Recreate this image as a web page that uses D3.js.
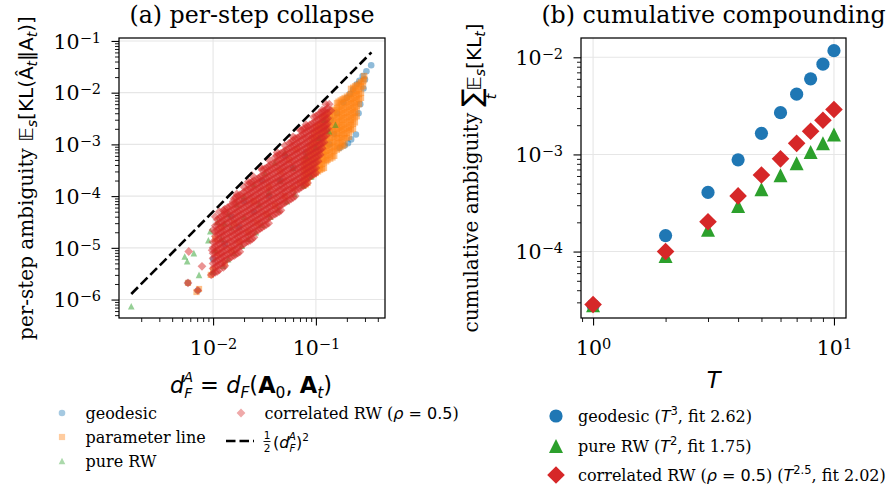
<!DOCTYPE html>
<html>
<head>
<meta charset="utf-8">
<script src="https://d3js.org/d3.v7.min.js"></script>
<style>
  body { margin: 0; background: #fff; }
</style>
</head>
<body>
<svg id="fig" width="890" height="489"></svg>
<script>

// ---------- panel (a): per-step points, [d_F^A, E_s KL] ----------
// correlated RW cloud, listed column by column as [x, [y ...]]
const corrRWCols = [
  [1.0e-2, [3.2e-6, 4.0e-6, 5.0e-6, 6.3e-6, 7.9e-6, 1.0e-5, 1.3e-5]],
  [1.1e-2, [3.5e-6, 4.5e-6, 5.6e-6, 7.1e-6, 8.9e-6, 1.1e-5, 1.4e-5, 1.8e-5, 2.2e-5, 2.8e-5, 3.5e-5]],
  [1.2e-2, [5.0e-6, 6.3e-6, 7.9e-6, 1.0e-5, 1.3e-5, 1.6e-5, 2.0e-5, 2.5e-5, 3.2e-5, 4.0e-5]],
  [1.3e-2, [4.5e-6, 5.6e-6, 7.1e-6, 8.9e-6, 1.1e-5, 1.4e-5, 1.8e-5, 2.2e-5, 2.8e-5, 3.5e-5, 4.5e-5, 5.6e-5]],
  [1.45e-2, [6.3e-6, 7.9e-6, 1.0e-5, 1.3e-5, 1.6e-5, 2.0e-5, 2.5e-5, 3.2e-5, 4.0e-5, 5.0e-5, 6.3e-5]],
  [1.6e-2, [7.1e-6, 8.9e-6, 1.1e-5, 1.4e-5, 1.8e-5, 2.2e-5, 2.8e-5, 3.5e-5, 4.5e-5, 5.6e-5, 7.1e-5, 8.9e-5]],
  [1.74e-2, [7.9e-6, 1.0e-5, 1.3e-5, 1.6e-5, 2.0e-5, 2.5e-5, 3.2e-5, 4.0e-5, 5.0e-5, 6.3e-5, 7.9e-5, 1.0e-4]],
  [1.9e-2, [1.1e-5, 1.4e-5, 1.8e-5, 2.2e-5, 2.8e-5, 3.5e-5, 4.5e-5, 5.6e-5, 7.1e-5, 8.9e-5, 1.1e-4]],
  [2.1e-2, [1.3e-5, 1.6e-5, 2.0e-5, 2.5e-5, 3.2e-5, 4.0e-5, 5.0e-5, 6.3e-5, 7.9e-5, 1.0e-4, 1.3e-4]],
  [2.3e-2, [1.4e-5, 1.8e-5, 2.2e-5, 2.8e-5, 3.5e-5, 4.5e-5, 5.6e-5, 7.1e-5, 8.9e-5, 1.1e-4, 1.4e-4, 1.8e-4]],
  [2.5e-2, [1.6e-5, 2.0e-5, 2.5e-5, 3.2e-5, 4.0e-5, 5.0e-5, 6.3e-5, 7.9e-5, 1.0e-4, 1.3e-4, 1.6e-4, 2.0e-4]],
  [2.75e-2, [2.2e-5, 2.8e-5, 3.5e-5, 4.5e-5, 5.6e-5, 7.1e-5, 8.9e-5, 1.1e-4, 1.4e-4, 1.8e-4, 2.2e-4]],
  [3.0e-2, [2.5e-5, 3.2e-5, 4.0e-5, 5.0e-5, 6.3e-5, 7.9e-5, 1.0e-4, 1.3e-4, 1.6e-4, 2.0e-4, 2.5e-4, 3.2e-4]],
  [3.3e-2, [2.8e-5, 3.5e-5, 4.5e-5, 5.6e-5, 7.1e-5, 8.9e-5, 1.1e-4, 1.4e-4, 1.8e-4, 2.2e-4, 2.8e-4, 3.5e-4]],
  [3.6e-2, [4.0e-5, 5.0e-5, 6.3e-5, 7.9e-5, 1.0e-4, 1.3e-4, 1.6e-4, 2.0e-4, 2.5e-4, 3.2e-4, 4.0e-4]],
  [4.0e-2, [4.5e-5, 5.6e-5, 7.1e-5, 8.9e-5, 1.1e-4, 1.4e-4, 1.8e-4, 2.2e-4, 2.8e-4, 3.5e-4, 4.5e-4, 5.6e-4]],
  [4.4e-2, [5.0e-5, 6.3e-5, 7.9e-5, 1.0e-4, 1.3e-4, 1.6e-4, 2.0e-4, 2.5e-4, 3.2e-4, 4.0e-4, 5.0e-4, 6.3e-4]],
  [4.8e-2, [7.1e-5, 8.9e-5, 1.1e-4, 1.4e-4, 1.8e-4, 2.2e-4, 2.8e-4, 3.5e-4, 4.5e-4, 5.6e-4, 7.1e-4]],
  [5.2e-2, [7.9e-5, 1.0e-4, 1.3e-4, 1.6e-4, 2.0e-4, 2.5e-4, 3.2e-4, 4.0e-4, 5.0e-4, 6.3e-4, 7.9e-4]],
  [5.75e-2, [8.9e-5, 1.1e-4, 1.4e-4, 1.8e-4, 2.2e-4, 2.8e-4, 3.5e-4, 4.5e-4, 5.6e-4, 7.1e-4, 8.9e-4, 1.1e-3]],
  [6.3e-2, [1.0e-4, 1.3e-4, 1.6e-4, 2.0e-4, 2.5e-4, 3.2e-4, 4.0e-4, 5.0e-4, 6.3e-4, 7.9e-4, 1.0e-3, 1.3e-3]],
  [6.9e-2, [1.4e-4, 1.8e-4, 2.2e-4, 2.8e-4, 3.5e-4, 4.5e-4, 5.6e-4, 7.1e-4, 8.9e-4, 1.1e-3, 1.4e-3]],
  [7.6e-2, [1.6e-4, 2.0e-4, 2.5e-4, 3.2e-4, 4.0e-4, 5.0e-4, 6.3e-4, 7.9e-4, 1.0e-3, 1.3e-3, 1.6e-3, 2.0e-3]],
  [8.3e-2, [1.8e-4, 2.2e-4, 2.8e-4, 3.5e-4, 4.5e-4, 5.6e-4, 7.1e-4, 8.9e-4, 1.1e-3, 1.4e-3, 1.8e-3, 2.2e-3]],
  [9.1e-2, [2.5e-4, 3.2e-4, 4.0e-4, 5.0e-4, 6.3e-4, 7.9e-4, 1.0e-3, 1.3e-3, 1.6e-3, 2.0e-3, 2.5e-3]],
  [1.0e-1, [2.8e-4, 3.5e-4, 4.5e-4, 5.6e-4, 7.1e-4, 8.9e-4, 1.1e-3, 1.4e-3, 1.8e-3, 2.2e-3, 2.8e-3, 3.5e-3]],
  [1.1e-1, [6.3e-4, 7.9e-4, 1.0e-3, 1.3e-3, 1.6e-3, 2.0e-3, 2.5e-3, 3.2e-3, 4.0e-3]],
  [1.2e-1, [1.1e-3, 1.4e-3, 1.8e-3, 2.2e-3, 2.8e-3, 3.5e-3, 4.5e-3]],
  [1.3e-1, [2.0e-3, 2.5e-3, 3.2e-3, 4.0e-3, 5.0e-3]]
];
// the columns in between
const corrRWColsMid = [
  [1.05e-2, [3.35e-6, 4.2e-6, 5.3e-6, 6.7e-6, 8.4e-6, 1.06e-5, 1.33e-5, 1.68e-5, 2.1e-5, 2.66e-5]],
  [1.15e-2, [3.76e-6, 4.7e-6, 6.0e-6, 7.5e-6, 9.4e-6, 1.19e-5, 1.5e-5, 1.88e-5, 2.37e-5, 3.0e-5, 3.76e-5]],
  [1.26e-2, [4.2e-6, 5.3e-6, 6.7e-6, 8.4e-6, 1.06e-5, 1.33e-5, 1.68e-5, 2.1e-5, 2.66e-5, 3.35e-5, 4.2e-5, 5.3e-5]],
  [1.38e-2, [6.0e-6, 7.5e-6, 9.4e-6, 1.19e-5, 1.5e-5, 1.88e-5, 2.37e-5, 3.0e-5, 3.76e-5, 4.7e-5, 6.0e-5]],
  [1.51e-2, [6.7e-6, 8.4e-6, 1.06e-5, 1.33e-5, 1.68e-5, 2.1e-5, 2.66e-5, 3.35e-5, 4.2e-5, 5.3e-5, 6.7e-5]],
  [1.66e-2, [7.5e-6, 9.4e-6, 1.19e-5, 1.5e-5, 1.88e-5, 2.37e-5, 3.0e-5, 3.76e-5, 4.7e-5, 6.0e-5, 7.5e-5, 9.4e-5]],
  [1.82e-2, [8.4e-6, 1.06e-5, 1.33e-5, 1.68e-5, 2.1e-5, 2.66e-5, 3.35e-5, 4.2e-5, 5.3e-5, 6.7e-5, 8.4e-5, 1.06e-4]],
  [2.0e-2, [1.19e-5, 1.5e-5, 1.88e-5, 2.37e-5, 3.0e-5, 3.76e-5, 4.7e-5, 6.0e-5, 7.5e-5, 9.4e-5, 1.19e-4]],
  [2.19e-2, [1.33e-5, 1.68e-5, 2.1e-5, 2.66e-5, 3.35e-5, 4.2e-5, 5.3e-5, 6.7e-5, 8.4e-5, 1.06e-4, 1.33e-4, 1.68e-4]],
  [2.4e-2, [1.5e-5, 1.88e-5, 2.37e-5, 3.0e-5, 3.76e-5, 4.7e-5, 6.0e-5, 7.5e-5, 9.4e-5, 1.19e-4, 1.5e-4, 1.88e-4]],
  [2.63e-2, [2.1e-5, 2.66e-5, 3.35e-5, 4.2e-5, 5.3e-5, 6.7e-5, 8.4e-5, 1.06e-4, 1.33e-4, 1.68e-4, 2.1e-4]],
  [2.88e-2, [2.37e-5, 3.0e-5, 3.76e-5, 4.7e-5, 6.0e-5, 7.5e-5, 9.4e-5, 1.19e-4, 1.5e-4, 1.88e-4, 2.37e-4]],
  [3.16e-2, [2.66e-5, 3.35e-5, 4.2e-5, 5.3e-5, 6.7e-5, 8.4e-5, 1.06e-4, 1.33e-4, 1.68e-4, 2.1e-4, 2.66e-4, 3.35e-4]],
  [3.47e-2, [3.0e-5, 3.76e-5, 4.7e-5, 6.0e-5, 7.5e-5, 9.4e-5, 1.19e-4, 1.5e-4, 1.88e-4, 2.37e-4, 3.0e-4, 3.76e-4]],
  [3.8e-2, [4.2e-5, 5.3e-5, 6.7e-5, 8.4e-5, 1.06e-4, 1.33e-4, 1.68e-4, 2.1e-4, 2.66e-4, 3.35e-4, 4.2e-4]],
  [4.17e-2, [4.7e-5, 6.0e-5, 7.5e-5, 9.4e-5, 1.19e-4, 1.5e-4, 1.88e-4, 2.37e-4, 3.0e-4, 3.76e-4, 4.7e-4, 6.0e-4]],
  [4.57e-2, [5.3e-5, 6.7e-5, 8.4e-5, 1.06e-4, 1.33e-4, 1.68e-4, 2.1e-4, 2.66e-4, 3.35e-4, 4.2e-4, 5.3e-4, 6.7e-4]],
  [5.0e-2, [7.5e-5, 9.4e-5, 1.19e-4, 1.5e-4, 1.88e-4, 2.37e-4, 3.0e-4, 3.76e-4, 4.7e-4, 6.0e-4, 7.5e-4]],
  [5.5e-2, [8.4e-5, 1.06e-4, 1.33e-4, 1.68e-4, 2.1e-4, 2.66e-4, 3.35e-4, 4.2e-4, 5.3e-4, 6.7e-4, 8.4e-4, 1.06e-3]],
  [6.0e-2, [9.4e-5, 1.19e-4, 1.5e-4, 1.88e-4, 2.37e-4, 3.0e-4, 3.76e-4, 4.7e-4, 6.0e-4, 7.5e-4, 9.4e-4, 1.19e-3]],
  [6.6e-2, [1.33e-4, 1.68e-4, 2.1e-4, 2.66e-4, 3.35e-4, 4.2e-4, 5.3e-4, 6.7e-4, 8.4e-4, 1.06e-3, 1.33e-3]],
  [7.25e-2, [1.5e-4, 1.88e-4, 2.37e-4, 3.0e-4, 3.76e-4, 4.7e-4, 6.0e-4, 7.5e-4, 9.4e-4, 1.19e-3, 1.5e-3, 1.88e-3]],
  [7.95e-2, [1.68e-4, 2.1e-4, 2.66e-4, 3.35e-4, 4.2e-4, 5.3e-4, 6.7e-4, 8.4e-4, 1.06e-3, 1.33e-3, 1.68e-3, 2.1e-3]],
  [8.7e-2, [2.37e-4, 3.0e-4, 3.76e-4, 4.7e-4, 6.0e-4, 7.5e-4, 9.4e-4, 1.19e-3, 1.5e-3, 1.88e-3, 2.37e-3]],
  [9.55e-2, [2.66e-4, 3.35e-4, 4.2e-4, 5.3e-4, 6.7e-4, 8.4e-4, 1.06e-3, 1.33e-3, 1.68e-3, 2.1e-3, 2.66e-3]],
  [1.05e-1, [4.7e-4, 6.0e-4, 7.5e-4, 9.4e-4, 1.19e-3, 1.5e-3, 1.88e-3, 2.37e-3, 3.0e-3, 3.76e-3]],
  [1.15e-1, [8.4e-4, 1.06e-3, 1.33e-3, 1.68e-3, 2.1e-3, 2.66e-3, 3.35e-3, 4.2e-3]],
  [1.26e-1, [1.5e-3, 1.88e-3, 2.37e-3, 3.0e-3, 3.76e-3, 4.7e-3]]
];
const corrRWSparse = [
  [5.8e-3, 8.5e-6], [7.8e-3, 4.4e-6], [7.1e-3, 1.5e-6], [5.7e-3, 2.1e-6], [9.6e-3, 3.0e-6],
  [9.8e-3, 9.0e-6], [1.0e-2, 2.2e-5], [1.05e-2, 4.0e-5], [1.15e-2, 5.0e-5], [1.57e-2, 7.9e-5],
  [1.3e-2, 5.0e-5], [1.7e-2, 1.1e-4], [2.0e-2, 1.5e-4], [2.2e-2, 1.9e-4], [2.4e-2, 2.5e-4],
  [2.9e-2, 3.6e-4], [3.5e-2, 5.0e-4], [4.2e-2, 7.0e-4], [5.0e-2, 9.5e-4], [6.0e-2, 1.4e-3],
  [7.0e-2, 1.9e-3], [8.0e-2, 2.4e-3], [9.5e-2, 3.4e-3], [1.15e-1, 4.6e-3], [1.35e-1, 6.0e-3],
  [1.4e-1, 4.5e-3], [1.25e-1, 6.0e-3]
];

// parameter line cloud
const paramLineCols = [
  [7.6e-2, [1.6e-4, 2.0e-4, 2.5e-4, 3.2e-4, 4.0e-4, 5.0e-4]],
  [8.3e-2, [1.8e-4, 2.2e-4, 2.8e-4, 3.5e-4, 4.5e-4, 5.6e-4, 7.1e-4]],
  [9.1e-2, [2.5e-4, 3.2e-4, 4.0e-4, 5.0e-4, 6.3e-4, 7.9e-4, 1.0e-3, 1.3e-3]],
  [1.0e-1, [2.8e-4, 3.5e-4, 4.5e-4, 5.6e-4, 7.1e-4, 8.9e-4, 1.1e-3, 1.4e-3, 1.8e-3, 2.2e-3]],
  [1.1e-1, [3.2e-4, 4.0e-4, 5.0e-4, 6.3e-4, 7.9e-4, 1.0e-3, 1.3e-3, 1.6e-3, 2.0e-3, 2.5e-3]],
  [1.2e-1, [3.5e-4, 4.5e-4, 5.6e-4, 7.1e-4, 8.9e-4, 1.1e-3, 1.4e-3, 1.8e-3, 2.2e-3, 2.8e-3, 3.5e-3]],
  [1.3e-1, [5.0e-4, 6.3e-4, 7.9e-4, 1.0e-3, 1.3e-3, 1.6e-3, 2.0e-3, 2.5e-3, 3.2e-3, 4.0e-3]],
  [1.45e-1, [5.6e-4, 7.1e-4, 8.9e-4, 1.1e-3, 1.4e-3, 1.8e-3, 2.2e-3, 2.8e-3, 3.5e-3, 4.5e-3]],
  [1.6e-1, [7.9e-4, 1.0e-3, 1.3e-3, 1.6e-3, 2.0e-3, 2.5e-3, 3.2e-3, 4.0e-3, 5.0e-3, 6.3e-3]],
  [1.74e-1, [8.9e-4, 1.1e-3, 1.4e-3, 1.8e-3, 2.2e-3, 2.8e-3, 3.5e-3, 4.5e-3, 5.6e-3, 7.1e-3]],
  [1.9e-1, [1.0e-3, 1.3e-3, 1.6e-3, 2.0e-3, 2.5e-3, 3.2e-3, 4.0e-3, 5.0e-3, 6.3e-3, 7.9e-3]],
  [2.1e-1, [1.4e-3, 1.8e-3, 2.2e-3, 2.8e-3, 3.5e-3, 4.5e-3, 5.6e-3, 7.1e-3, 8.9e-3]],
  [2.3e-1, [2.0e-3, 2.5e-3, 3.2e-3, 4.0e-3, 5.0e-3, 6.3e-3, 7.9e-3, 1.0e-2, 1.25e-2]],
  [2.5e-1, [3.5e-3, 4.5e-3, 5.6e-3, 7.1e-3, 8.9e-3, 1.1e-2, 1.4e-2]],
  [2.75e-1, [7.9e-3, 1.0e-2, 1.3e-2, 1.6e-2]],
  [2.95e-1, [1.8e-2, 2.1e-2]]
];
const paramLineColsMid = [
  [7.95e-2, [1.68e-4, 2.1e-4, 2.66e-4, 3.35e-4, 4.2e-4, 5.3e-4]],
  [8.7e-2, [2.37e-4, 3.0e-4, 3.76e-4, 4.7e-4, 6.0e-4, 7.5e-4, 9.4e-4]],
  [9.55e-2, [2.66e-4, 3.35e-4, 4.2e-4, 5.3e-4, 6.7e-4, 8.4e-4, 1.06e-3, 1.33e-3, 1.68e-3]],
  [1.05e-1, [3.0e-4, 3.76e-4, 4.7e-4, 6.0e-4, 7.5e-4, 9.4e-4, 1.19e-3, 1.5e-3, 1.88e-3, 2.37e-3]],
  [1.15e-1, [3.35e-4, 4.2e-4, 5.3e-4, 6.7e-4, 8.4e-4, 1.06e-3, 1.33e-3, 1.68e-3, 2.1e-3, 2.66e-3, 3.35e-3]],
  [1.26e-1, [4.7e-4, 6.0e-4, 7.5e-4, 9.4e-4, 1.19e-3, 1.5e-3, 1.88e-3, 2.37e-3, 3.0e-3, 3.76e-3]],
  [1.38e-1, [5.3e-4, 6.7e-4, 8.4e-4, 1.06e-3, 1.33e-3, 1.68e-3, 2.1e-3, 2.66e-3, 3.35e-3, 4.2e-3]],
  [1.51e-1, [6.0e-4, 7.5e-4, 9.4e-4, 1.19e-3, 1.5e-3, 1.88e-3, 2.37e-3, 3.0e-3, 3.76e-3, 4.7e-3]],
  [1.66e-1, [8.4e-4, 1.06e-3, 1.33e-3, 1.68e-3, 2.1e-3, 2.66e-3, 3.35e-3, 4.2e-3, 5.3e-3, 6.7e-3]],
  [1.82e-1, [9.4e-4, 1.19e-3, 1.5e-3, 1.88e-3, 2.37e-3, 3.0e-3, 3.76e-3, 4.7e-3, 6.0e-3, 7.5e-3]],
  [2.0e-1, [1.33e-3, 1.68e-3, 2.1e-3, 2.66e-3, 3.35e-3, 4.2e-3, 5.3e-3, 6.7e-3, 8.4e-3]],
  [2.19e-1, [1.88e-3, 2.37e-3, 3.0e-3, 3.76e-3, 4.7e-3, 6.0e-3, 7.5e-3, 9.4e-3, 1.19e-2]],
  [2.4e-1, [2.66e-3, 3.35e-3, 4.2e-3, 5.3e-3, 6.7e-3, 8.4e-3, 1.06e-2, 1.33e-2]],
  [2.63e-1, [6.0e-3, 7.5e-3, 9.4e-3, 1.19e-2, 1.5e-2]],
  [2.88e-1, [1.33e-2, 1.68e-2]]
];
const paramLineSparse = [
  [5.7e-3, 2.1e-6], [6.9e-3, 1.4e-6], [7.3e-3, 1.6e-6], [9.5e-3, 3.0e-6], [1.0e-2, 3.8e-6],
  [1.05e-2, 1.5e-5], [1.2e-2, 2.5e-5], [1.3e-2, 5.0e-6], [1.5e-2, 9.0e-6], [1.8e-2, 1.3e-5],
  [2.2e-2, 2.0e-5], [2.7e-2, 3.0e-5], [3.3e-2, 4.5e-5], [4.0e-2, 6.5e-5], [5.0e-2, 1.0e-4],
  [6.0e-2, 1.4e-4], [7.0e-2, 1.8e-4], [1.1e-2, 8.0e-6], [1.6e-2, 3.0e-5], [2.5e-2, 8.0e-5],
  [3.5e-2, 1.5e-4], [4.5e-2, 3.0e-4], [5.5e-2, 5.0e-4], [6.5e-2, 8.0e-4]
];

// geodesic points
const geodesicPts = [
  [3.45e-1, 3.4e-2], [3.1e-1, 2.6e-2], [2.85e-1, 2.1e-2], [2.65e-1, 1.7e-2], [2.5e-1, 1.45e-2],
  [2.3e-1, 1.15e-2], [2.15e-1, 9.5e-3], [2.0e-1, 8.0e-3], [1.85e-1, 6.5e-3], [2.45e-1, 1.55e-3],
  [2.2e-1, 1.25e-3], [2.05e-1, 1.05e-3], [2.6e-1, 4.0e-3], [2.7e-1, 6.0e-3], [1.9e-1, 9.5e-4],
  [1.7e-1, 8.5e-4], [1.6e-1, 4.0e-3], [1.4e-1, 3.0e-3], [1.2e-1, 2.0e-3], [1.0e-1, 1.2e-3],
  [8.0e-2, 7.0e-4], [6.0e-2, 3.5e-4], [4.5e-2, 2.0e-4], [3.5e-2, 1.0e-4], [2.5e-2, 5.0e-5],
  [1.8e-2, 2.5e-5], [1.3e-2, 1.2e-5], [1.0e-2, 6.0e-6], [5.7e-3, 2.1e-6], [7.1e-3, 1.5e-6],
  [1.5e-2, 4.0e-5], [2.0e-2, 8.0e-5], [3.0e-2, 2.0e-4], [5.0e-2, 6.0e-4], [1.35e-1, 1.0e-3],
  [1.5e-1, 1.6e-3], [2.9e-1, 1.2e-2], [3.0e-1, 1.8e-2]
];

// pure RW points
const pureRWPts = [
  [1.6e-3, 7.4e-7], [5.3e-3, 6.8e-6], [5.6e-3, 5.5e-6], [6.5e-3, 7.9e-6], [7.3e-3, 3.0e-6],
  [9.4e-3, 2.1e-5], [9.0e-3, 1.4e-5], [1.0e-2, 3.5e-6], [1.1e-2, 3.2e-5], [1.25e-2, 4.5e-6],
  [1.4e-2, 6.0e-6], [1.6e-2, 8.0e-6], [1.9e-2, 1.1e-5], [2.2e-2, 1.5e-5], [2.6e-2, 2.0e-5],
  [3.0e-2, 2.8e-5], [3.6e-2, 4.0e-5], [4.3e-2, 5.5e-5], [5.2e-2, 8.0e-5], [6.2e-2, 1.1e-4],
  [7.5e-2, 1.6e-4], [9.0e-2, 2.4e-4], [1.55e-1, 2.4e-3], [1.34e-1, 1.8e-3], [1.07e-1, 1.35e-3],
  [1.2e-1, 3.0e-3], [1.4e-2, 4.5e-5], [1.7e-2, 7.0e-5], [2.0e-2, 1.0e-4], [2.5e-2, 1.7e-4],
  [3.2e-2, 2.8e-4], [4.0e-2, 4.5e-4], [5.0e-2, 7.0e-4], [1.2e-2, 1.5e-5], [1.5e-2, 2.5e-5],
  [2.0e-2, 4.0e-5], [2.8e-2, 7.0e-5], [3.5e-2, 1.2e-4], [4.5e-2, 2.0e-4], [6.0e-2, 3.5e-4],
  [8.0e-2, 6.0e-4], [1.0e-1, 9.0e-4], [1.3e-2, 3.0e-5], [1.05e-2, 9.0e-6]
];

// reference line 1/2 (d_F^A)^2, end points
const halfSquareLine = [[1.6e-3, 1.28e-6], [3.47e-1, 6.0e-2]];

// ---------- panel (b): cumulative ambiguity vs T ----------
const horizon = [1, 2, 3, 4, 5, 6, 7, 8, 9, 10];
const cumGeodesic = [2.8e-5, 1.46e-4, 4.06e-4, 8.8e-4, 1.65e-3, 2.69e-3, 4.17e-3, 6.0e-3, 8.5e-3, 1.17e-2];
const cumPureRW   = [2.8e-5, 9.0e-5, 1.68e-4, 2.95e-4, 4.38e-4, 6.1e-4, 8.1e-4, 1.06e-3, 1.30e-3, 1.60e-3];
const cumCorrRW   = [2.85e-5, 1.0e-4, 2.03e-4, 3.74e-4, 6.14e-4, 9.0e-4, 1.30e-3, 1.73e-3, 2.25e-3, 2.9e-3];

const SERIF = "'DejaVu Serif', serif";
const SANS = "'DejaVu Sans', sans-serif";
const COL = {blue: '#1f77b4', orange: '#ff7f0e', green: '#2ca02c', red: '#d62728'};

const svg = d3.select('#fig');
svg.append('rect').attr('width', 890).attr('height', 489).attr('fill', '#fff');

const boxA = {x0: 119, x1: 385, y0: 38, y1: 318};
const boxB = {x0: 581, x1: 846, y0: 38, y1: 318};

const xa = d3.scaleLog().domain([1.216e-3, 0.47]).range([boxA.x0, boxA.x1]);
const ya = d3.scaleLog().domain([4.4e-7, 0.114]).range([boxA.y1, boxA.y0]);
const xb = d3.scaleLog().domain([0.891, 11.22]).range([boxB.x0, boxB.x1]);
const yb = d3.scaleLog().domain([2.07e-5, 1.58e-2]).range([boxB.y1, boxB.y0]);

function shapePath(shape, r) {
  if (shape === 'circle') return `M${r},0A${r},${r} 0 1,1 ${-r},0A${r},${r} 0 1,1 ${r},0Z`;
  if (shape === 'square') return `M${-r},${-r}H${r}V${r}H${-r}Z`;
  if (shape === 'triangle') return `M0,${-r}L${r},${r}L${-r},${r}Z`;
  return `M0,${-r}L${r},0L0,${r}L${-r},0Z`;
}

function rich(sel, parts) {
  parts.forEach(p => {
    const ts = sel.append('tspan').text(p.t)
      .attr('font-family', p.f === 'serif' ? SERIF : SANS);
    if (p.i) ts.attr('font-style', 'italic');
    if (p.b) ts.attr('font-weight', 'bold');
    if (p.s) ts.attr('font-size', p.s);
    if (p.dy) ts.attr('dy', p.dy);
    if (p.dx) ts.attr('dx', p.dx);
  });
}

function logTicks([lo, hi]) {
  const majors = [], minors = [];
  for (let e = Math.floor(Math.log10(lo)); e <= Math.ceil(Math.log10(hi)); e++) {
    for (let k = 1; k <= 9; k++) {
      const v = k * Math.pow(10, e);
      if (v < lo || v > hi) continue;
      (k === 1 ? majors : minors).push(v);
    }
  }
  return {majors, minors};
}

function decadeLabel(d) {
  const e = Math.round(Math.log10(d));
  const t = d3.select(this).text(null);
  rich(t, [{t: '10', f: 'serif'},
           {t: (e < 0 ? '\u2212' : '') + Math.abs(e), f: 'serif', s: 14.5, dy: -6}]);
}

function drawAxes(box, x, y) {
  const tx = logTicks(x.domain()), ty = logTicks(y.domain());
  const grid = svg.append('g').attr('stroke', '#e6e6e6').attr('stroke-width', 1.1);
  grid.selectAll(null).data(tx.majors).join('line')
    .attr('x1', d => x(d)).attr('x2', d => x(d)).attr('y1', box.y0).attr('y2', box.y1);
  grid.selectAll(null).data(ty.majors).join('line')
    .attr('y1', d => y(d)).attr('y2', d => y(d)).attr('x1', box.x0).attr('x2', box.x1);

  const bMin = svg.append('g').attr('transform', `translate(0,${box.y1})`)
    .call(d3.axisBottom(x).tickValues(tx.minors).tickSize(4).tickFormat(() => ''));
  const bMaj = svg.append('g').attr('transform', `translate(0,${box.y1})`)
    .call(d3.axisBottom(x).tickValues(tx.majors).tickSize(7.5).tickFormat(() => ''));
  const lMin = svg.append('g').attr('transform', `translate(${box.x0},0)`)
    .call(d3.axisLeft(y).tickValues(ty.minors).tickSize(4).tickFormat(() => ''));
  const lMaj = svg.append('g').attr('transform', `translate(${box.x0},0)`)
    .call(d3.axisLeft(y).tickValues(ty.majors).tickSize(7.5).tickFormat(() => ''));
  [bMin, bMaj, lMin, lMaj].forEach(g => {
    g.select('.domain').remove();
    g.attr('font-size', 20.5).attr('font-family', SERIF);
    g.selectAll('.tick line').attr('stroke', '#000');
  });
  [bMin, lMin].forEach(g => g.selectAll('.tick line').attr('stroke-width', 0.9));
  [bMaj, lMaj].forEach(g => g.selectAll('.tick line').attr('stroke-width', 1.1));
  bMaj.selectAll('.tick text').attr('y', 37).attr('dy', null).attr('fill', '#000').each(decadeLabel);
  lMaj.selectAll('.tick text').attr('x', -18).attr('y', 7.3).attr('dy', null).attr('fill', '#000').each(decadeLabel);
}

function frame(box) {
  svg.append('rect').attr('x', box.x0).attr('y', box.y0)
    .attr('width', box.x1 - box.x0).attr('height', box.y1 - box.y0)
    .attr('fill', 'none').attr('stroke', '#000').attr('stroke-width', 1.25);
}

const defs = svg.append('defs');
defs.append('clipPath').attr('id', 'clipA').append('rect')
  .attr('x', boxA.x0).attr('y', boxA.y0).attr('width', boxA.x1 - boxA.x0).attr('height', boxA.y1 - boxA.y0);

// ---------- panel (a) ----------
drawAxes(boxA, xa, ya);
const gA = svg.append('g').attr('clip-path', 'url(#clipA)');
const flat = cols => cols.flatMap(([x, ys]) => ys.map(y => [x, y]));

const ALPHA = 0.5;
const seriesA = [
  {pts: geodesicPts, shape: 'circle', r: 3.3, color: COL.blue},
  {pts: flat(paramLineCols).concat(flat(paramLineColsMid), paramLineSparse), shape: 'square', r: 3.1, color: COL.orange},
  {pts: pureRWPts, shape: 'triangle', r: 3.3, color: COL.green},
  {pts: flat(corrRWCols).concat(flat(corrRWColsMid), corrRWSparse), shape: 'diamond', r: 4.4, color: COL.red}
];
seriesA.forEach(s => {
  gA.append('g').selectAll('path').data(s.pts).join('path')
    .attr('d', shapePath(s.shape, s.r))
    .attr('transform', d => `translate(${xa(d[0])},${ya(d[1])})`)
    .attr('fill', s.color).attr('fill-opacity', ALPHA);
});
gA.append('path')
  .attr('d', d3.line().x(d => xa(d[0])).y(d => ya(d[1]))(halfSquareLine))
  .attr('fill', 'none').attr('stroke', '#000').attr('stroke-width', 2.6)
  .attr('stroke-dasharray', '9.5 4');
frame(boxA);

svg.append('text').attr('x', 252).attr('y', 23).attr('text-anchor', 'middle')
  .attr('font-family', SERIF).attr('font-size', 23.7).text('(a) per-step collapse');

// x label  d_F^A = d_F(A_0, A_t)
rich(svg.append('text').attr('x', 251).attr('y', 393).attr('text-anchor', 'middle').attr('font-size', 22.5), [
  {t: 'd', f: 'sans', i: 1},
  {t: 'F', f: 'sans', i: 1, s: 14, dy: 5},
  {t: 'A', f: 'sans', i: 1, s: 14, dx: -8.1, dy: -16.5},
  {t: ' = ', f: 'sans', dy: 11.5},
  {t: 'd', f: 'sans', i: 1},
  {t: 'F', f: 'sans', i: 1, s: 15.5, dy: 5},
  {t: '(', f: 'sans', dy: -5},
  {t: 'A', f: 'sans', b: 1},
  {t: '0', f: 'sans', s: 15.5, dy: 5},
  {t: ', ', f: 'sans', dy: -5},
  {t: 'A', f: 'sans', b: 1},
  {t: 't', f: 'sans', i: 1, s: 15.5, dy: 5},
  {t: ')', f: 'sans', dy: -5}
]);

// y label
rich(svg.append('text').attr('transform', 'translate(33,178) rotate(-90)')
  .attr('text-anchor', 'middle').attr('font-size', 20), [
  {t: 'per-step ambiguity ', f: 'serif'},
  {t: '\u{1D53C}', f: 'sans'},
  {t: 's', f: 'sans', i: 1, s: 14, dy: 4},
  {t: '[KL(\u00C2', f: 'sans', dy: -4},
  {t: 't', f: 'sans', i: 1, s: 14, dy: 4},
  {t: '\u2016A', f: 'sans', dy: -4},
  {t: 't', f: 'sans', i: 1, s: 14, dy: 4},
  {t: ')]', f: 'sans', dy: -4}
]);

// legend (a)
const legA = svg.append('g');
const legAItems = [
  {x: 62, y: 413, shape: 'circle', r: 3.3, color: COL.blue, label: [{t: 'geodesic', f: 'serif'}]},
  {x: 62, y: 437, shape: 'square', r: 3.1, color: COL.orange, label: [{t: 'parameter line', f: 'serif'}]},
  {x: 62, y: 461, shape: 'triangle', r: 3.3, color: COL.green, label: [{t: 'pure RW', f: 'serif'}]},
  {x: 241, y: 413, shape: 'diamond', r: 4.4, color: COL.red,
   label: [{t: 'correlated RW (', f: 'serif'}, {t: '\u03C1', f: 'sans', i: 1}, {t: ' = 0.5', f: 'sans'}, {t: ')', f: 'serif'}]}
];
legAItems.forEach(it => {
  legA.append('path').attr('d', shapePath(it.shape, it.r))
    .attr('transform', `translate(${it.x},${it.y})`)
    .attr('fill', it.color).attr('fill-opacity', 0.4);
  rich(legA.append('text').attr('x', it.x + 23.5).attr('y', it.y + 6).attr('font-size', 16), it.label);
});
legA.append('line').attr('x1', 226).attr('x2', 254).attr('y1', 441).attr('y2', 441)
  .attr('stroke', '#000').attr('stroke-width', 2.6).attr('stroke-dasharray', '9.5 4');
legA.append('text').attr('x', 267).attr('y', 438.5).attr('text-anchor', 'middle')
  .attr('font-family', SANS).attr('font-size', 10.5).text('1');
legA.append('line').attr('x1', 263.5).attr('x2', 270.5).attr('y1', 441.5).attr('y2', 441.5)
  .attr('stroke', '#000').attr('stroke-width', 0.9);
legA.append('text').attr('x', 267).attr('y', 452).attr('text-anchor', 'middle')
  .attr('font-family', SANS).attr('font-size', 10.5).text('2');
rich(legA.append('text').attr('x', 273).attr('y', 448).attr('font-size', 16), [
  {t: '(', f: 'sans'},
  {t: 'd', f: 'sans', i: 1},
  {t: 'F', f: 'sans', i: 1, s: 10.5, dy: 4},
  {t: 'A', f: 'sans', i: 1, s: 10.5, dx: -6, dy: -12.5},
  {t: ')', f: 'sans', dy: 8.5},
  {t: '2', f: 'sans', s: 10.5, dy: -7}
]);

// ---------- panel (b) ----------
drawAxes(boxB, xb, yb);
const seriesB = [
  {vals: cumGeodesic, shape: 'circle', r: 6.6, color: COL.blue},
  {vals: cumPureRW, shape: 'triangle', r: 7, color: COL.green},
  {vals: cumCorrRW, shape: 'diamond', r: 8.8, color: COL.red}
];
seriesB.forEach(s => {
  svg.append('g').selectAll('path').data(horizon.map((t, i) => [t, s.vals[i]])).join('path')
    .attr('d', shapePath(s.shape, s.r))
    .attr('transform', d => `translate(${xb(d[0])},${yb(d[1])})`)
    .attr('fill', s.color);
});
frame(boxB);

svg.append('text').attr('x', 713.5).attr('y', 23).attr('text-anchor', 'middle')
  .attr('font-family', SERIF).attr('font-size', 23.7).text('(b) cumulative compounding');

rich(svg.append('text').attr('x', 713.5).attr('y', 388).attr('text-anchor', 'middle').attr('font-size', 22.5), [
  {t: 'T', f: 'sans', i: 1}
]);

rich(svg.append('text').attr('transform', 'translate(478,178) rotate(-90)')
  .attr('text-anchor', 'middle').attr('font-size', 20), [
  {t: 'cumulative ambiguity ', f: 'serif'},
  {t: '\u2211', f: 'sans', s: 27, dy: 3},
  {t: 't', f: 'sans', i: 1, s: 14, dx: -11, dy: 15},
  {t: '\u{1D53C}', f: 'sans', dx: 3, dy: -15},
  {t: 's', f: 'sans', i: 1, s: 14, dy: 4},
  {t: '[KL', f: 'sans', dy: -4},
  {t: 't', f: 'sans', i: 1, s: 14, dy: 4},
  {t: ']', f: 'sans', dy: -4}
]);

// legend (b)
const legB = svg.append('g');
const legBItems = [
  {y: 416, shape: 'circle', r: 6.6, color: COL.blue,
   label: [{t: 'geodesic (', f: 'serif'}, {t: 'T', f: 'sans', i: 1}, {t: '3', f: 'sans', s: 11.5, dy: -7},
           {t: ', fit 2.62)', f: 'serif', dy: 7}]},
  {y: 446, shape: 'triangle', r: 7, color: COL.green,
   label: [{t: 'pure RW (', f: 'serif'}, {t: 'T', f: 'sans', i: 1}, {t: '2', f: 'sans', s: 11.5, dy: -7},
           {t: ', fit 1.75)', f: 'serif', dy: 7}]},
  {y: 475, shape: 'diamond', r: 8.8, color: COL.red,
   label: [{t: 'correlated RW (', f: 'serif'}, {t: '\u03C1', f: 'sans', i: 1}, {t: ' = 0.5', f: 'sans'},
           {t: ') (', f: 'serif'}, {t: 'T', f: 'sans', i: 1}, {t: '2.5', f: 'sans', s: 11.5, dy: -7},
           {t: ', fit 2.02)', f: 'serif', dy: 7}]}
];
legBItems.forEach(it => {
  legB.append('path').attr('d', shapePath(it.shape, it.r))
    .attr('transform', `translate(556,${it.y})`).attr('fill', it.color);
  rich(legB.append('text').attr('x', 578).attr('y', it.y + 5.5).attr('font-size', 16), it.label);
});

</script>
</body>
</html>
